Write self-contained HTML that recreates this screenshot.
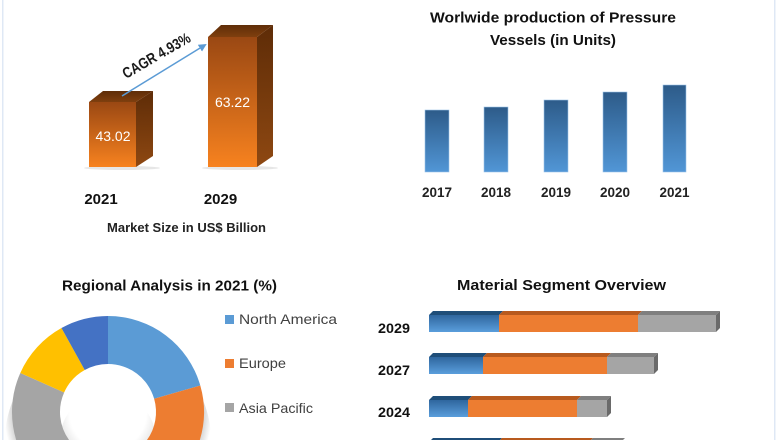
<!DOCTYPE html>
<html>
<head>
<meta charset="utf-8">
<style>
html,body{margin:0;padding:0;background:#fff;}
body{width:780px;height:440px;overflow:hidden;}
svg{display:block;overflow:hidden;}
text{font-family:"Liberation Sans",Arial,sans-serif;}
</style>
</head>
<body>
<svg width="780" height="440" viewBox="0 0 780 440" xmlns="http://www.w3.org/2000/svg">
<defs>
  <linearGradient id="oFront" x1="0" y1="0" x2="0" y2="1">
    <stop offset="0" stop-color="#9a4813"/>
    <stop offset="1" stop-color="#f7821f"/>
  </linearGradient>
  <linearGradient id="oSide" x1="0" y1="0" x2="0" y2="1">
    <stop offset="0" stop-color="#5e2c07"/>
    <stop offset="1" stop-color="#8e4812"/>
  </linearGradient>
  <linearGradient id="oTop" x1="0" y1="0" x2="0" y2="1">
    <stop offset="0" stop-color="#5f2d08"/>
    <stop offset="1" stop-color="#7f3f0e"/>
  </linearGradient>
  <linearGradient id="bBar" x1="0" y1="0" x2="0" y2="1">
    <stop offset="0" stop-color="#2d5b89"/>
    <stop offset="1" stop-color="#5196d6"/>
  </linearGradient>
  <linearGradient id="hBlue" x1="0" y1="0" x2="0" y2="1">
    <stop offset="0" stop-color="#2f669e"/>
    <stop offset="1" stop-color="#5a9edc"/>
  </linearGradient>
  <radialGradient id="halo" cx="108" cy="412" r="104" gradientUnits="userSpaceOnUse">
    <stop offset="0" stop-color="#000" stop-opacity="0"/>
    <stop offset="0.9" stop-color="#000" stop-opacity="0"/>
    <stop offset="0.92" stop-color="#000" stop-opacity="0.16"/>
    <stop offset="1" stop-color="#000" stop-opacity="0"/>
  </radialGradient>
  <radialGradient id="hole" cx="108" cy="412" r="48" gradientUnits="userSpaceOnUse">
    <stop offset="0.8" stop-color="#ffffff"/>
    <stop offset="1" stop-color="#ececec"/>
  </radialGradient>
  <marker id="arr" markerWidth="8" markerHeight="8" refX="6" refY="4" orient="auto" markerUnits="userSpaceOnUse">
    <path d="M0,0 L8,4 L0,8 Z" fill="#5b9bd5"/>
  </marker>
</defs>

<!-- frame lines -->
<rect x="2" y="0" width="1.5" height="440" fill="#dfe8f5"/>
<rect x="774" y="0" width="1.5" height="440" fill="#dfe8f5"/>

<!-- ===== Top-left: Market size 3D bars ===== -->
<ellipse cx="122" cy="168" rx="38" ry="2" fill="#e6e6e6"/>
<ellipse cx="240" cy="168" rx="38" ry="2" fill="#e6e6e6"/>
<polygon points="136,102 153,91 153,156 136,167" fill="url(#oSide)"/>
<polygon points="89,102 103,91 153,91 136,102" fill="url(#oTop)"/>
<rect x="89" y="102" width="47" height="65" fill="url(#oFront)"/>
<polygon points="257,37 273,25 273,156 257,167" fill="url(#oSide)"/>
<polygon points="208,37 221,25 273,25 257,37" fill="url(#oTop)"/>
<rect x="208" y="37" width="49" height="130" fill="url(#oFront)"/>

<text x="113" y="141" font-size="14" fill="#ffffff" text-anchor="middle">43.02</text>
<text x="232.5" y="107" font-size="14" fill="#ffffff" text-anchor="middle">63.22</text>

<line x1="122" y1="96" x2="205" y2="45" stroke="#5b9bd5" stroke-width="1.5" marker-end="url(#arr)"/>
<text transform="translate(126,79) rotate(-30)" font-size="15" font-weight="bold" fill="#1a1a1a" textLength="76" lengthAdjust="spacingAndGlyphs">CAGR 4.93%</text>

<text x="101" y="204" font-size="15" font-weight="bold" fill="#111" text-anchor="middle">2021</text>
<text x="220.5" y="204" font-size="15" font-weight="bold" fill="#111" text-anchor="middle">2029</text>
<text x="107" y="232" font-size="12.5" font-weight="bold" fill="#222" textLength="159" lengthAdjust="spacingAndGlyphs">Market Size in US$ Billion</text>

<!-- ===== Top-right: production bars ===== -->
<text x="430" y="22.5" font-size="14.5" font-weight="bold" fill="#111" textLength="246" lengthAdjust="spacingAndGlyphs">Worlwide production of Pressure</text>
<text x="490" y="45" font-size="14.5" font-weight="bold" fill="#111" textLength="126" lengthAdjust="spacingAndGlyphs">Vessels (in Units)</text>

<rect x="425" y="110" width="24" height="62" fill="url(#bBar)" stroke="#9cc3ea" stroke-width="0.6"/>
<rect x="484" y="107" width="24" height="65" fill="url(#bBar)" stroke="#9cc3ea" stroke-width="0.6"/>
<rect x="544" y="100" width="24" height="72" fill="url(#bBar)" stroke="#9cc3ea" stroke-width="0.6"/>
<rect x="603" y="92" width="24" height="80" fill="url(#bBar)" stroke="#9cc3ea" stroke-width="0.6"/>
<rect x="663" y="85" width="23" height="87" fill="url(#bBar)" stroke="#9cc3ea" stroke-width="0.6"/>

<g font-size="13.5" font-weight="bold" fill="#222" text-anchor="middle">
  <text x="437" y="197">2017</text>
  <text x="496" y="197">2018</text>
  <text x="556" y="197">2019</text>
  <text x="615" y="197">2020</text>
  <text x="674.5" y="197">2021</text>
</g>

<!-- ===== Bottom-left: donut (geometry trimmed at y=440) ===== -->
<text x="62" y="290.5" font-size="14.5" font-weight="bold" fill="#111" textLength="215" lengthAdjust="spacingAndGlyphs">Regional Analysis in 2021 (%)</text>

<path d="M5,440 A103,103 0 0 1 211,440 Z" fill="url(#halo)"/>
<path d="M60,440 A48,48 0 0 1 156,440 Z" fill="url(#hole)"/>
<path d="M108,316 A96,96 0 0 1 200.28,385.54 L154.14,398.77 A48,48 0 0 0 108,364 Z" fill="#5b9bd5"/>
<path d="M200.28,385.54 A96,96 0 0 1 199.83,440 L146.99,440 A48,48 0 0 0 154.14,398.77 Z" fill="#ed7d31"/>
<path d="M16.17,440 A96,96 0 0 1 20.30,372.96 L64.15,392.48 A48,48 0 0 0 69.01,440 Z" fill="#a5a5a5"/>
<path d="M20.30,372.96 A96,96 0 0 1 61.46,328.04 L84.73,370.02 A48,48 0 0 0 64.15,392.48 Z" fill="#ffc000"/>
<path d="M61.46,328.04 A96,96 0 0 1 108,316 L108,364 A48,48 0 0 0 84.73,370.02 Z" fill="#4472c4"/>

<rect x="225" y="315" width="9" height="9" fill="#5b9bd5"/>
<text x="239" y="324" font-size="14" fill="#404040" textLength="98" lengthAdjust="spacingAndGlyphs">North America</text>
<rect x="225" y="359" width="9" height="9" fill="#ed7d31"/>
<text x="239" y="368" font-size="14" fill="#404040" textLength="47" lengthAdjust="spacingAndGlyphs">Europe</text>
<rect x="225" y="403" width="9" height="9" fill="#a5a5a5"/>
<text x="239" y="413" font-size="14" fill="#404040" textLength="74" lengthAdjust="spacingAndGlyphs">Asia Pacific</text>

<!-- ===== Bottom-right: material segment bars ===== -->
<text x="457" y="290" font-size="14.5" font-weight="bold" fill="#111" textLength="209" lengthAdjust="spacingAndGlyphs">Material Segment Overview</text>

<g font-size="14" font-weight="bold" fill="#111">
  <text x="378" y="333" textLength="32" lengthAdjust="spacingAndGlyphs">2029</text>
  <text x="378" y="375" textLength="32" lengthAdjust="spacingAndGlyphs">2027</text>
  <text x="378" y="417" textLength="32" lengthAdjust="spacingAndGlyphs">2024</text>
</g>

<g>
  <polygon points="429,315 433,311 503,311 499,315" fill="#1f4e79"/>
  <polygon points="499,315 503,311 642,311 638,315" fill="#b85a1e"/>
  <polygon points="638,315 642,311 720,311 716,315" fill="#7f7f7f"/>
  <polygon points="716,315 720,311 720,328 716,332" fill="#6a6a6a"/>
  <rect x="429" y="315" width="70" height="17" fill="url(#hBlue)"/>
  <rect x="499" y="315" width="139" height="17" fill="#ed7d31"/>
  <rect x="638" y="315" width="78" height="17" fill="#a5a5a5"/>
</g>
<g>
  <polygon points="429,357 433,353 487,353 483,357" fill="#1f4e79"/>
  <polygon points="483,357 487,353 611,353 607,357" fill="#b85a1e"/>
  <polygon points="607,357 611,353 658,353 654,357" fill="#7f7f7f"/>
  <polygon points="654,357 658,353 658,370 654,374" fill="#6a6a6a"/>
  <rect x="429" y="357" width="54" height="17" fill="url(#hBlue)"/>
  <rect x="483" y="357" width="124" height="17" fill="#ed7d31"/>
  <rect x="607" y="357" width="47" height="17" fill="#a5a5a5"/>
</g>
<g>
  <polygon points="429,400 433,396 472,396 468,400" fill="#1f4e79"/>
  <polygon points="468,400 472,396 581,396 577,400" fill="#b85a1e"/>
  <polygon points="577,400 581,396 611,396 607,400" fill="#7f7f7f"/>
  <polygon points="607,400 611,396 611,413 607,417" fill="#6a6a6a"/>
  <rect x="429" y="400" width="39" height="17" fill="url(#hBlue)"/>
  <rect x="468" y="400" width="109" height="17" fill="#ed7d31"/>
  <rect x="577" y="400" width="30" height="17" fill="#a5a5a5"/>
</g>
<g>
  <polygon points="431,440 433,438 502,438 500,440" fill="#1f4e79"/>
  <polygon points="500,440 502,438 593,438 591,440" fill="#b85a1e"/>
  <polygon points="591,440 593,438 625,438 623,440" fill="#7f7f7f"/>
</g>
</svg>
</body>
</html>
